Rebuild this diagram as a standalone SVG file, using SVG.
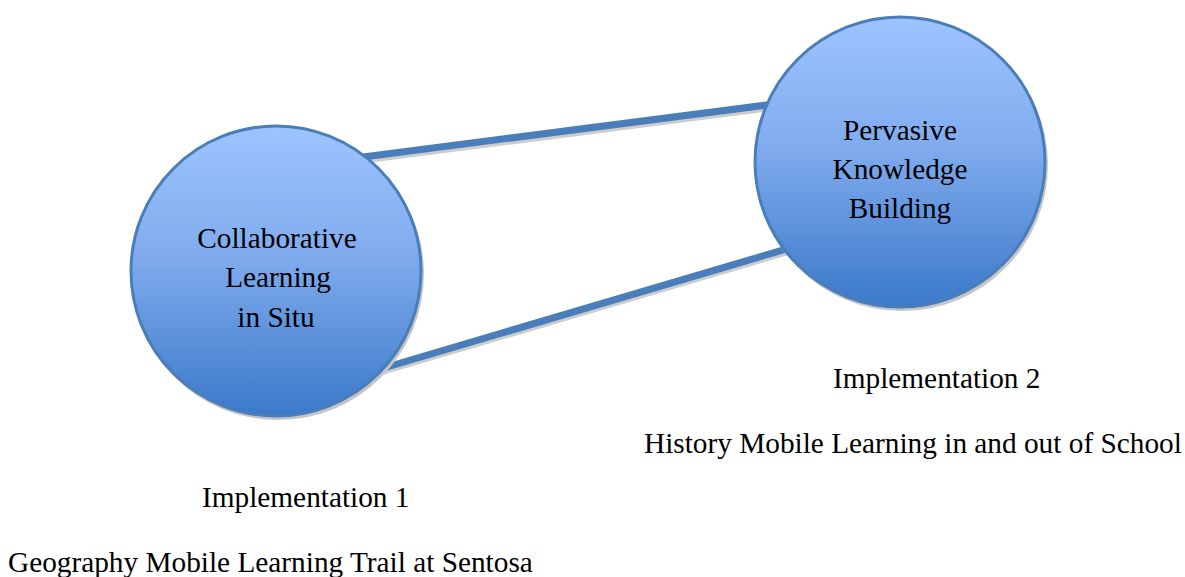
<svg xmlns="http://www.w3.org/2000/svg" width="1185" height="577" viewBox="0 0 1185 577">
<defs>
<linearGradient id="ballFill" x1="0" y1="0" x2="0" y2="1">
<stop offset="0" stop-color="#9ec4ff"/>
<stop offset="0.45" stop-color="#80abee"/>
<stop offset="1" stop-color="#3b79c9"/>
</linearGradient>
<style>
.ball{fill:url(#ballFill);stroke:#4a7ebb;stroke-width:3}
.ballShadow{fill:#c6c6c6}
.link{stroke:#4a7ebb;stroke-width:7;fill:none}
.linkShadow{stroke:#cdcdcd;stroke-width:7;fill:none}
text{font-family:"Liberation Serif","Times New Roman",serif;font-size:29.3px;fill:#000}
.c{text-anchor:middle}
</style>
</defs>
<rect width="1185" height="577" fill="#ffffff"/>
<g id="connectors">
<line class="linkShadow" x1="340" y1="163" x2="790" y2="105"/>
<line class="linkShadow" x1="360" y1="378" x2="810" y2="245"/>
<line class="link" x1="340" y1="160" x2="790" y2="102"/>
<line class="link" x1="360" y1="375" x2="810" y2="242"/>
</g>
<g id="node-collaborative">
<circle class="ballShadow" cx="278" cy="274" r="146"/>
<circle class="ball" cx="276" cy="271" r="145"/>
<text class="c" x="277" y="248">Collaborative</text>
<text class="c" x="278" y="287">Learning</text>
<text class="c" x="276" y="327">in Situ</text>
</g>
<g id="node-pervasive">
<circle class="ballShadow" cx="902" cy="165" r="146"/>
<circle class="ball" cx="900" cy="162" r="145"/>
<text class="c" x="900" y="140">Pervasive</text>
<text class="c" x="900" y="179">Knowledge</text>
<text class="c" x="900" y="218">Building</text>
</g>
<g id="label-impl2">
<text x="833" y="388">Implementation 2</text>
<text x="644" y="453">History Mobile Learning in and out of School</text>
</g>
<g id="label-impl1">
<text x="202" y="507">Implementation 1</text>
<text x="8" y="572">Geography Mobile Learning Trail at Sentosa</text>
</g>
</svg>
